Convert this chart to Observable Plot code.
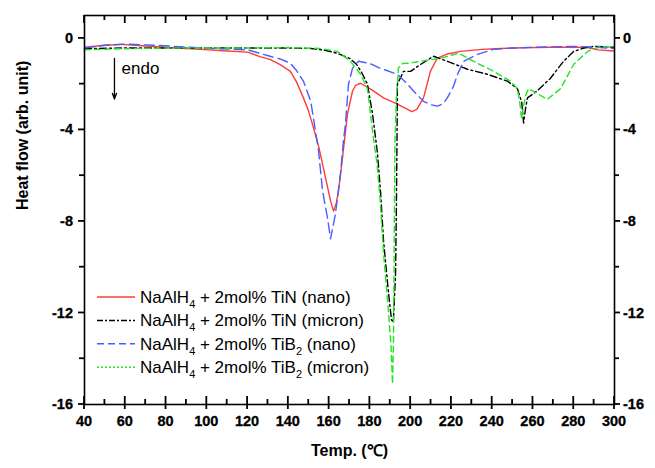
<!DOCTYPE html>
<html><head><meta charset="utf-8">
<script src="https://cdn.jsdelivr.net/npm/d3@7"></script>
<script src="https://cdn.jsdelivr.net/npm/@observablehq/plot@0.6"></script>
<style>body{margin:0;background:#fff} #chart{width:655px;height:468px}</style>
</head><body><div id="chart"></div>
<script>
const FONT = '"Liberation Sans", Arial, Helvetica, sans-serif';

// TiN (nano) – red solid
const redX = [40,50,58,70,85,97,110,120,126,131,136,141,144,147.4,150,152.3,154.8,157.3,159,160.7,162.2,163.5,164.6,166.6,169,171.5,173,175.4,181,186.7,193,198.5,200.5,203,206.3,209.7,213,218,224.5,235,244,255,268.6,280,286.8,292,299.5];
const redY = [-0.39,-0.3,-0.26,-0.33,-0.42,-0.48,-0.55,-0.6,-0.8,-0.92,-1.15,-1.44,-1.9,-2.6,-3.2,-3.9,-4.7,-5.7,-6.4,-7.1,-7.55,-7.2,-6.67,-5.2,-3.3,-2.3,-2.05,-1.96,-2.25,-2.6,-2.85,-3.1,-3.2,-3.1,-2.6,-1.44,-0.87,-0.68,-0.57,-0.48,-0.44,-0.41,-0.39,-0.38,-0.4,-0.5,-0.55];

// TiN (micron) – black dash-dot
const blackX = [40,60,80,100,120,140,151,158,164,170,173.4,176,178.8,181.3,182.8,183.7,185.2,186.7,189,190.6,191.5,192.6,193,193.3,193.5,196.5,200,205,211.2,218,227.9,237.7,247.5,252.4,254.5,255.4,256.3,257.3,262,268.6,275,280,285,289.7,295,299.5];
const blackY = [-0.45,-0.42,-0.42,-0.42,-0.42,-0.42,-0.44,-0.52,-0.65,-0.87,-1.13,-1.5,-2.0,-3.3,-4.36,-5.0,-6.67,-8.85,-11.0,-12.3,-12.4,-10.3,-7.4,-4.5,-2.0,-1.44,-1.44,-1.13,-0.78,-1.0,-1.35,-1.57,-1.87,-2.2,-2.8,-3.7,-3.1,-2.6,-2.3,-1.74,-1.0,-0.57,-0.42,-0.35,-0.36,-0.39];

// TiB2 (nano) – blue dashed
const blueX = [40,50,60,65,75,90,105,120,131,136,141,144,147.4,151,153.3,154.8,156.8,159.2,160.7,163.1,165.6,167,168,169.5,171.5,174.4,180,185,193.5,198.5,201.4,206.3,210,213.2,216,218,221,223,226,232.8,240.7,250,260,270,280,290,299.5];
const blueY = [-0.42,-0.3,-0.25,-0.27,-0.3,-0.38,-0.45,-0.5,-0.78,-0.9,-1.09,-1.4,-1.87,-2.75,-4.05,-4.9,-6.67,-7.85,-8.76,-7.67,-5.9,-4.5,-3.75,-2.0,-1.3,-1.0,-1.1,-1.3,-1.57,-2.0,-2.3,-2.75,-2.9,-2.96,-2.85,-2.6,-2.1,-1.57,-1.0,-0.7,-0.48,-0.42,-0.39,-0.37,-0.35,-0.38,-0.44];

// TiB2 (micron) – green
const greenX = [40,60,80,100,120,140,155.8,164,170.5,175.4,178.8,180.3,181.8,183.5,185,186.7,189,190.4,191.1,191.6,192,192.3,193,194,196,198.5,205,214.6,223.5,232.8,240.7,249,252.4,253.5,254.4,255.3,256.4,257.8,262,267,273.5,280,286.8,293,299.5];
const greenY = [-0.5,-0.45,-0.42,-0.42,-0.42,-0.4,-0.44,-0.57,-1.0,-1.57,-2.2,-3.3,-4.4,-5.5,-7.0,-9.4,-11.8,-13.5,-15.1,-13.2,-8.0,-4.5,-2.6,-1.3,-1.1,-1.09,-1.0,-0.87,-0.65,-1.09,-1.44,-1.87,-2.2,-2.8,-3.5,-3.0,-2.5,-2.2,-2.4,-2.67,-2.2,-1.13,-0.57,-0.35,-0.39];

const seriesNames = ["TiN (nano)","TiN (micron)","TiB2 (nano)","TiB2 (micron)"];
const xMajor = [40,60,80,100,120,140,160,180,200,220,240,260,280,300];
const xMinor = [50,70,90,110,130,150,170,190,210,230,250,270,290];
const yMajor = [0,-4,-8,-12,-16];
const yMinor = [-2,-6,-10,-14];
const endoArrow = [{x1:54.7, y1:-0.87, x2:54.7, y2:-2.65}];
const endoText = [{x:58.2, y:-1.3, t:"endo"}];

const styles = [
  {color:"#ff3b3b", dash:null, legendDash:null, cat:"TiN", sub:null, tag:"(nano)"},
  {color:"#000000", dash:"7,3,2,3", legendDash:"6,2,2,2", cat:"TiN", sub:null, tag:"(micron)"},
  {color:"#4a5cff", dash:"10,5", legendDash:"7,4", cat:"TiB", sub:"2", tag:"(nano)"},
  {color:"#22e622", dash:"6,4", legendDash:"2,2", cat:"TiB", sub:"2", tag:"(micron)"}
];
const xs = [redX, blackX, blueX, greenX];
const ys = [redY, blackY, blueY, greenY];
const rows = seriesNames.map((n,i)=> xs[i].map((x,j)=>({x, y: ys[i][j], s:n})));

function legendMark(index, scales, values, dims) {
  const g = d3.create("svg:g").attr("font-family", FONT).attr("font-size", 17)
    .attr("font-weight","normal").attr("fill","#000").attr("text-anchor","start");
  styles.forEach((s,i)=>{
    const y = dims.marginTop + 282 + i*23.4;
    const x0 = dims.marginLeft + 13;
    const ln = g.append("line").attr("x1",x0).attr("x2",x0+38).attr("y1",y).attr("y2",y)
      .attr("stroke",s.color).attr("stroke-width",1.5);
    if (s.legendDash) ln.attr("stroke-dasharray", s.legendDash);
    const t = g.append("text").attr("x", x0+43).attr("y", y+6).attr("text-anchor","start");
    t.append("tspan").text("NaAlH");
    t.append("tspan").attr("font-size",11).attr("dy",5).text("4");
    t.append("tspan").attr("dy",-5).text(" + 2mol% " + s.cat);
    if (s.sub) {
      t.append("tspan").attr("font-size",11).attr("dy",5).text(s.sub);
      t.append("tspan").attr("dy",-5).text(" " + s.tag);
    } else {
      t.append("tspan").text(" " + s.tag);
    }
  });
  return g.node();
}

// Axes drawn from Plot's own x / y scales
function axesMark(index, scales, values, dims) {
  const sx = scales.x, sy = scales.y;
  const L = dims.marginLeft, R = dims.width - dims.marginRight;
  const T = dims.marginTop, B = dims.height - dims.marginBottom;
  const g = d3.create("svg:g");
  const seg = (x1, y1, x2, y2) => g.append("path")
    .attr("d", `M${x1},${y1}L${x2},${y2}`)
    .attr("stroke", "#000").attr("stroke-width", 1.8).attr("fill", "none");
  const label = (x, y, txt, anchor, dy) => g.append("text")
    .attr("x", x).attr("y", y).attr("dy", dy).attr("text-anchor", anchor)
    .attr("style", `font-family:${FONT};font-size:14.5px;font-weight:700;fill:#000;stroke:#000;stroke-width:0.3px`)
    .text(txt);
  xMajor.forEach(v => {
    const px = sx(v);
    seg(px, B - 8, px, B + 5);
    seg(px, T, px, T + 8);
    label(px, B + 11, String(v), "middle", "0.75em");
  });
  xMinor.forEach(v => {
    const px = sx(v);
    seg(px, B - 5, px, B);
    seg(px, T, px, T + 5);
  });
  yMajor.forEach(v => {
    const py = sy(v);
    seg(L - 6, py, L, py);
    seg(R, py, R + 6, py);
    label(L - 11, py, String(v), "end", "0.35em");
    label(R + 9, py, String(v), "start", "0.35em");
  });
  yMinor.forEach(v => {
    const py = sy(v);
    seg(L - 5, py, L, py);
    seg(R, py, R + 5, py);
  });
  return g.node();
}

const lineMarks = rows.map((r,i)=> Plot.line(r, {x:"x", y:"y", stroke: styles[i].color, strokeWidth: 1.4, strokeDasharray: styles[i].dash ?? undefined}));

const chart = Plot.plot({
  width: 655, height: 468,
  marginLeft: 84, marginRight: 41, marginTop: 15, marginBottom: 64,
  style: {fontFamily: FONT, background: "#fff", color: "#000", overflow: "visible"},
  x: {domain: [40, 300], axis: null},
  y: {domain: [-16, 1], axis: null},
  marks: [
    ...lineMarks,
    Plot.frame({stroke: "#000", strokeWidth: 1.6}),
    Plot.text(["Temp. (\u2103)"], {frameAnchor: "bottom", dy: 51, fontSize: 16, fontWeight: "bold", fontFamily: FONT, fill: "#000"}),
    Plot.text(["Heat flow (arb. unit)"], {frameAnchor: "left", dx: -62, rotate: -90, fontSize: 16, fontWeight: "bold", fontFamily: FONT, fill: "#000"}),
    Plot.arrow(endoArrow, {x1:"x1", y1:"y1", x2:"x2", y2:"y2", stroke:"#000", strokeWidth: 1.3, headLength: 7, headAngle: 40}),
    Plot.text(endoText, {x:"x", y:"y", text:"t", textAnchor:"start", fontSize: 17, fontWeight: "normal", fontFamily: FONT, fill:"#000"}),
    legendMark,
    axesMark
  ]
});
document.getElementById("chart").appendChild(chart);
</script>
</body></html>
